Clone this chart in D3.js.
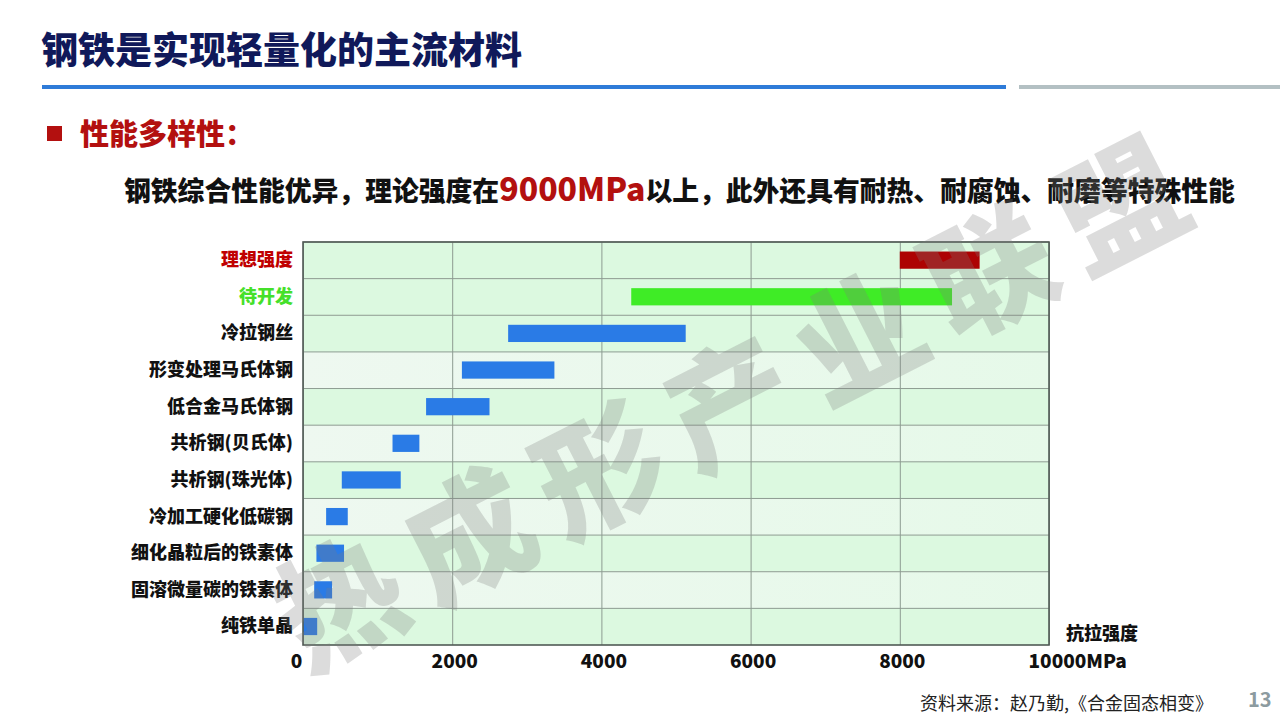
<!DOCTYPE html>
<html>
<head>
<meta charset="utf-8">
<script src="https://cdn.jsdelivr.net/npm/d3@7"></script>
<style>
  html, body { margin: 0; padding: 0; background: #fff; }
  svg { display: block; font-family: "Noto Sans CJK SC", "Noto Sans", sans-serif; }
</style>
</head>
<body>
<div id="container"></div>
<script>
// chart data
const categories = ['理想强度', '待开发', '冷拉钢丝', '形变处理马氏体钢', '低合金马氏体钢',
  '共析钢(贝氏体)', '共析钢(珠光体)', '冷加工硬化低碳钢', '细化晶粒后的铁素体', '固溶微量碳的铁素体', '纯铁单晶'];
const lowValues = [8000, 4400, 2750, 2130, 1650, 1200, 520, 310, 180, 150, 0];
const highValues = [9070, 8700, 5130, 3370, 2500, 1560, 1310, 600, 550, 390, 190];
const xTicks = [0, 2000, 4000, 6000, 8000, 10000];

// page size and plot box
const w = 1280, h = 720;
const pLeft = 303, pRight = 1049, pTop = 242, pBottom = 645;

const svg = d3.select('#container')
  .append('svg')
  .attr('width', w)
  .attr('height', h);

// header
svg.append('text')
  .attr('x', 41).attr('y', 64)
  .attr('font-size', 37).attr('font-weight', 900)
  .attr('fill', '#10195a')
  .text('钢铁是实现轻量化的主流材料');

svg.append('line')
  .attr('x1', 42).attr('x2', 1006).attr('y1', 87).attr('y2', 87)
  .attr('stroke', '#2e7bd8').attr('stroke-width', 4);
svg.append('line')
  .attr('x1', 1019).attr('x2', 1280).attr('y1', 87).attr('y2', 87)
  .attr('stroke', '#b3c0c3').attr('stroke-width', 4);

svg.append('rect')
  .attr('x', 47).attr('y', 126).attr('width', 15).attr('height', 15)
  .attr('fill', '#b3100f');
svg.append('text')
  .attr('x', 80).attr('y', 145)
  .attr('font-size', 29).attr('font-weight', 900)
  .attr('fill', '#b3100f')
  .text('性能多样性：');

const sub = svg.append('text')
  .attr('x', 124).attr('y', 201)
  .attr('font-size', 26.8).attr('font-weight', 900)
  .attr('fill', '#111');
sub.append('tspan').text('钢铁综合性能优异，理论强度在');
sub.append('tspan').attr('fill', '#b3100f').attr('font-size', 32).text('9000MPa');
sub.append('tspan').text('以上，此外还具有耐热、耐腐蚀、耐磨等特殊性能');

// scales
const xScale = d3.scaleLinear()
  .domain([0, 10000])
  .range([pLeft, pRight]);

const yScale = d3.scaleBand()
  .domain(categories)
  .range([pTop, pBottom]);

const barColor = d3.scaleOrdinal()
  .domain(categories)
  .range(categories.map(c => c === '理想强度' ? '#ad0303' : c === '待开发' ? '#3fec26' : '#2a7be6'));

const labelColor = d3.scaleOrdinal()
  .domain(categories)
  .range(categories.map(c => c === '理想强度' ? '#c00000' : c === '待开发' ? '#45e02a' : '#111'));

// row backgrounds
const defs = svg.append('defs');
const grad = defs.append('linearGradient').attr('id', 'rowLight')
  .attr('x1', '0%').attr('x2', '100%').attr('y1', '0%').attr('y2', '0%');
grad.append('stop').attr('offset', '0%').attr('stop-color', '#eef8f0');
grad.append('stop').attr('offset', '100%').attr('stop-color', '#e6f9e9');

svg.append('g')
  .selectAll('rect')
  .data(categories)
  .join('rect')
  .attr('x', pLeft)
  .attr('y', d => yScale(d))
  .attr('width', pRight - pLeft)
  .attr('height', yScale.bandwidth())
  .attr('fill', (d, i) => (i >= 3 && i % 2 === 1) ? 'url(#rowLight)' : '#dcf9e0');

// grid lines
svg.append('g')
  .attr('transform', `translate(0, ${pBottom})`)
  .call(d3.axisBottom(xScale).tickValues(xTicks).tickSize(-(pBottom - pTop)).tickFormat(''))
  .call(g => g.select('.domain').remove())
  .call(g => g.selectAll('line').attr('stroke', '#8d9b91').attr('stroke-width', 1));

svg.append('g')
  .attr('transform', `translate(${pLeft}, 0)`)
  .call(d3.axisLeft(yScale).tickSize(-(pRight - pLeft)).tickFormat(''))
  .call(g => g.select('.domain').remove())
  .call(g => g.selectAll('.tick').attr('transform', d => `translate(0, ${yScale(d)})`))
  .call(g => g.selectAll('line').attr('stroke', '#8d9b91').attr('stroke-width', 1));

// bars
svg.append('g')
  .selectAll('rect')
  .data(categories)
  .join('rect')
  .attr('x', (d, i) => xScale(lowValues[i]))
  .attr('y', d => yScale(d) + yScale.bandwidth() * 0.26)
  .attr('width', (d, i) => xScale(highValues[i]) - xScale(lowValues[i]))
  .attr('height', yScale.bandwidth() * 0.47)
  .attr('fill', d => barColor(d));

// plot frame
svg.append('rect')
  .attr('x', pLeft).attr('y', pTop)
  .attr('width', pRight - pLeft).attr('height', pBottom - pTop)
  .attr('fill', 'none')
  .attr('stroke', '#505a55').attr('stroke-width', 1.6);

// axes labels
const xAxis = svg.append('g')
  .attr('transform', `translate(0, ${pBottom})`)
  .call(d3.axisBottom(xScale).tickValues(xTicks).tickSize(0).tickPadding(10)
    .tickFormat(d => d === 10000 ? '10000MPa' : String(d)));
xAxis.select('.domain').remove();
xAxis.selectAll('text')
  .attr('font-family', '"Noto Sans CJK SC", sans-serif')
  .attr('font-size', 19).attr('font-weight', 900).attr('fill', '#111')
  .attr('text-anchor', d => d === 10000 ? 'start' : 'middle')
  .attr('dx', d => d === 10000 ? -21 : d === 0 ? -7 : 2);

const yAxis = svg.append('g')
  .attr('transform', `translate(${pLeft}, 0)`)
  .call(d3.axisLeft(yScale).tickSize(0).tickPadding(10));
yAxis.select('.domain').remove();
yAxis.selectAll('text')
  .attr('font-family', '"Noto Sans CJK SC", sans-serif')
  .attr('font-size', 18).attr('font-weight', 900)
  .attr('fill', d => labelColor(d));

svg.append('text')
  .attr('x', 1066).attr('y', 640)
  .attr('font-size', 18).attr('font-weight', 900).attr('fill', '#111')
  .text('抗拉强度');

// footer
svg.append('text')
  .attr('x', 920).attr('y', 710)
  .attr('font-size', 18).attr('fill', '#222')
  .text('资料来源：赵乃勤,《合金固态相变》');
svg.append('text')
  .attr('x', 1248).attr('y', 707)
  .attr('font-size', 20).attr('font-weight', 700).attr('fill', '#8c9ba0')
  .text('13');

// watermark
svg.append('text')
  .attr('transform', 'translate(735, 392) rotate(-27)')
  .attr('text-anchor', 'middle')
  .attr('dominant-baseline', 'central')
  .attr('font-size', 126).attr('font-weight', 900)
  .attr('letter-spacing', 20)
  .attr('fill', '#7f7f7f').attr('fill-opacity', 0.27)
  .text('热成形产业联盟');
</script>
</body>
</html>
